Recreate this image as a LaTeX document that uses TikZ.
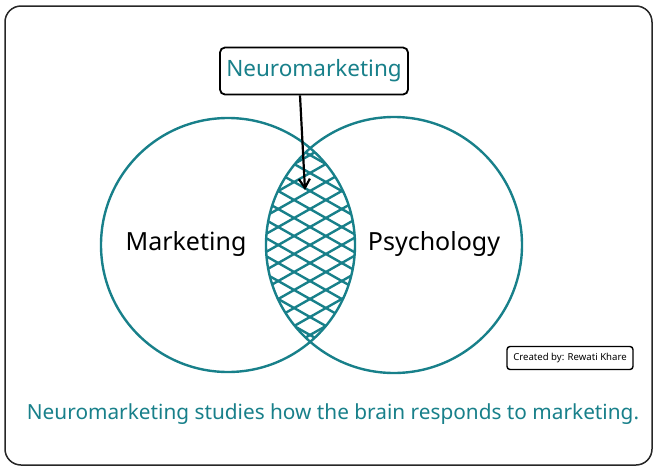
\documentclass[tikz,border=0pt]{standalone}
\usepackage{fontspec}
\setmainfont{Noto Sans}
\usetikzlibrary{arrows.meta}
\definecolor{teal1}{RGB}{24,128,138}
\tikzset{
  venn/.style={draw=teal1, line width=2.4pt},
  hatch/.style={draw=teal1, line width=2.4pt},
  labelbox/.style={draw=black, line width=1.8pt, rounded corners=5pt, fill=white, inner sep=0pt},
  frame/.style={draw=black!85, line width=1.5pt, rounded corners=16pt},
}
\begin{document}
\begin{tikzpicture}[x=1pt,y=-1pt]
\useasboundingbox (0,0) rectangle (657,469);
\draw[frame] (5,6) rectangle (652,465);
% circles
\coordinate (cl) at (228,245);
\coordinate (cr) at (394,245);
\begin{scope}
  \clip (cl) circle (127);
  \clip (cr) circle (128);
  \foreach \k in {-12,...,12} {
    \draw[hatch] (310-150,245+\k*18+85) -- (310+150,245+\k*18-85);
    \draw[hatch] (310-150,245+\k*18-85) -- (310+150,245+\k*18+85);
  }
\end{scope}
\draw[venn] (cl) circle (127);
\draw[venn] (cr) circle (128);
\node[font=\fontsize{25}{29}\selectfont] (mk) at (186,244) {Marketing};
\node[font=\fontsize{25}{29}\selectfont] (ps) at (434,244) {Psychology};
% top box
\node[labelbox, minimum width=188pt, minimum height=47pt, text=teal1,
      font=\fontsize{22.5}{27}\selectfont] (nm) at (314,71) {Neuromarketing};
\coordinate (tip) at (305,190);
\draw[line width=2.2pt, -{Straight Barb[length=9pt,width=11pt]}] (nm.south -| 300,0) -- (tip);
% credit
\node[labelbox, line width=1.4pt, rounded corners=3pt, minimum width=126pt, minimum height=23pt,
      font=\fontsize{9.6}{11}\selectfont] (cr1) at (570,358) {Created by: Rewati Khare};
% caption
\node[text=teal1, font=\fontsize{20.8}{24}\selectfont] (cap) at (333,414)
  {Neuromarketing studies how the brain responds to marketing.};
\end{tikzpicture}
\end{document}
